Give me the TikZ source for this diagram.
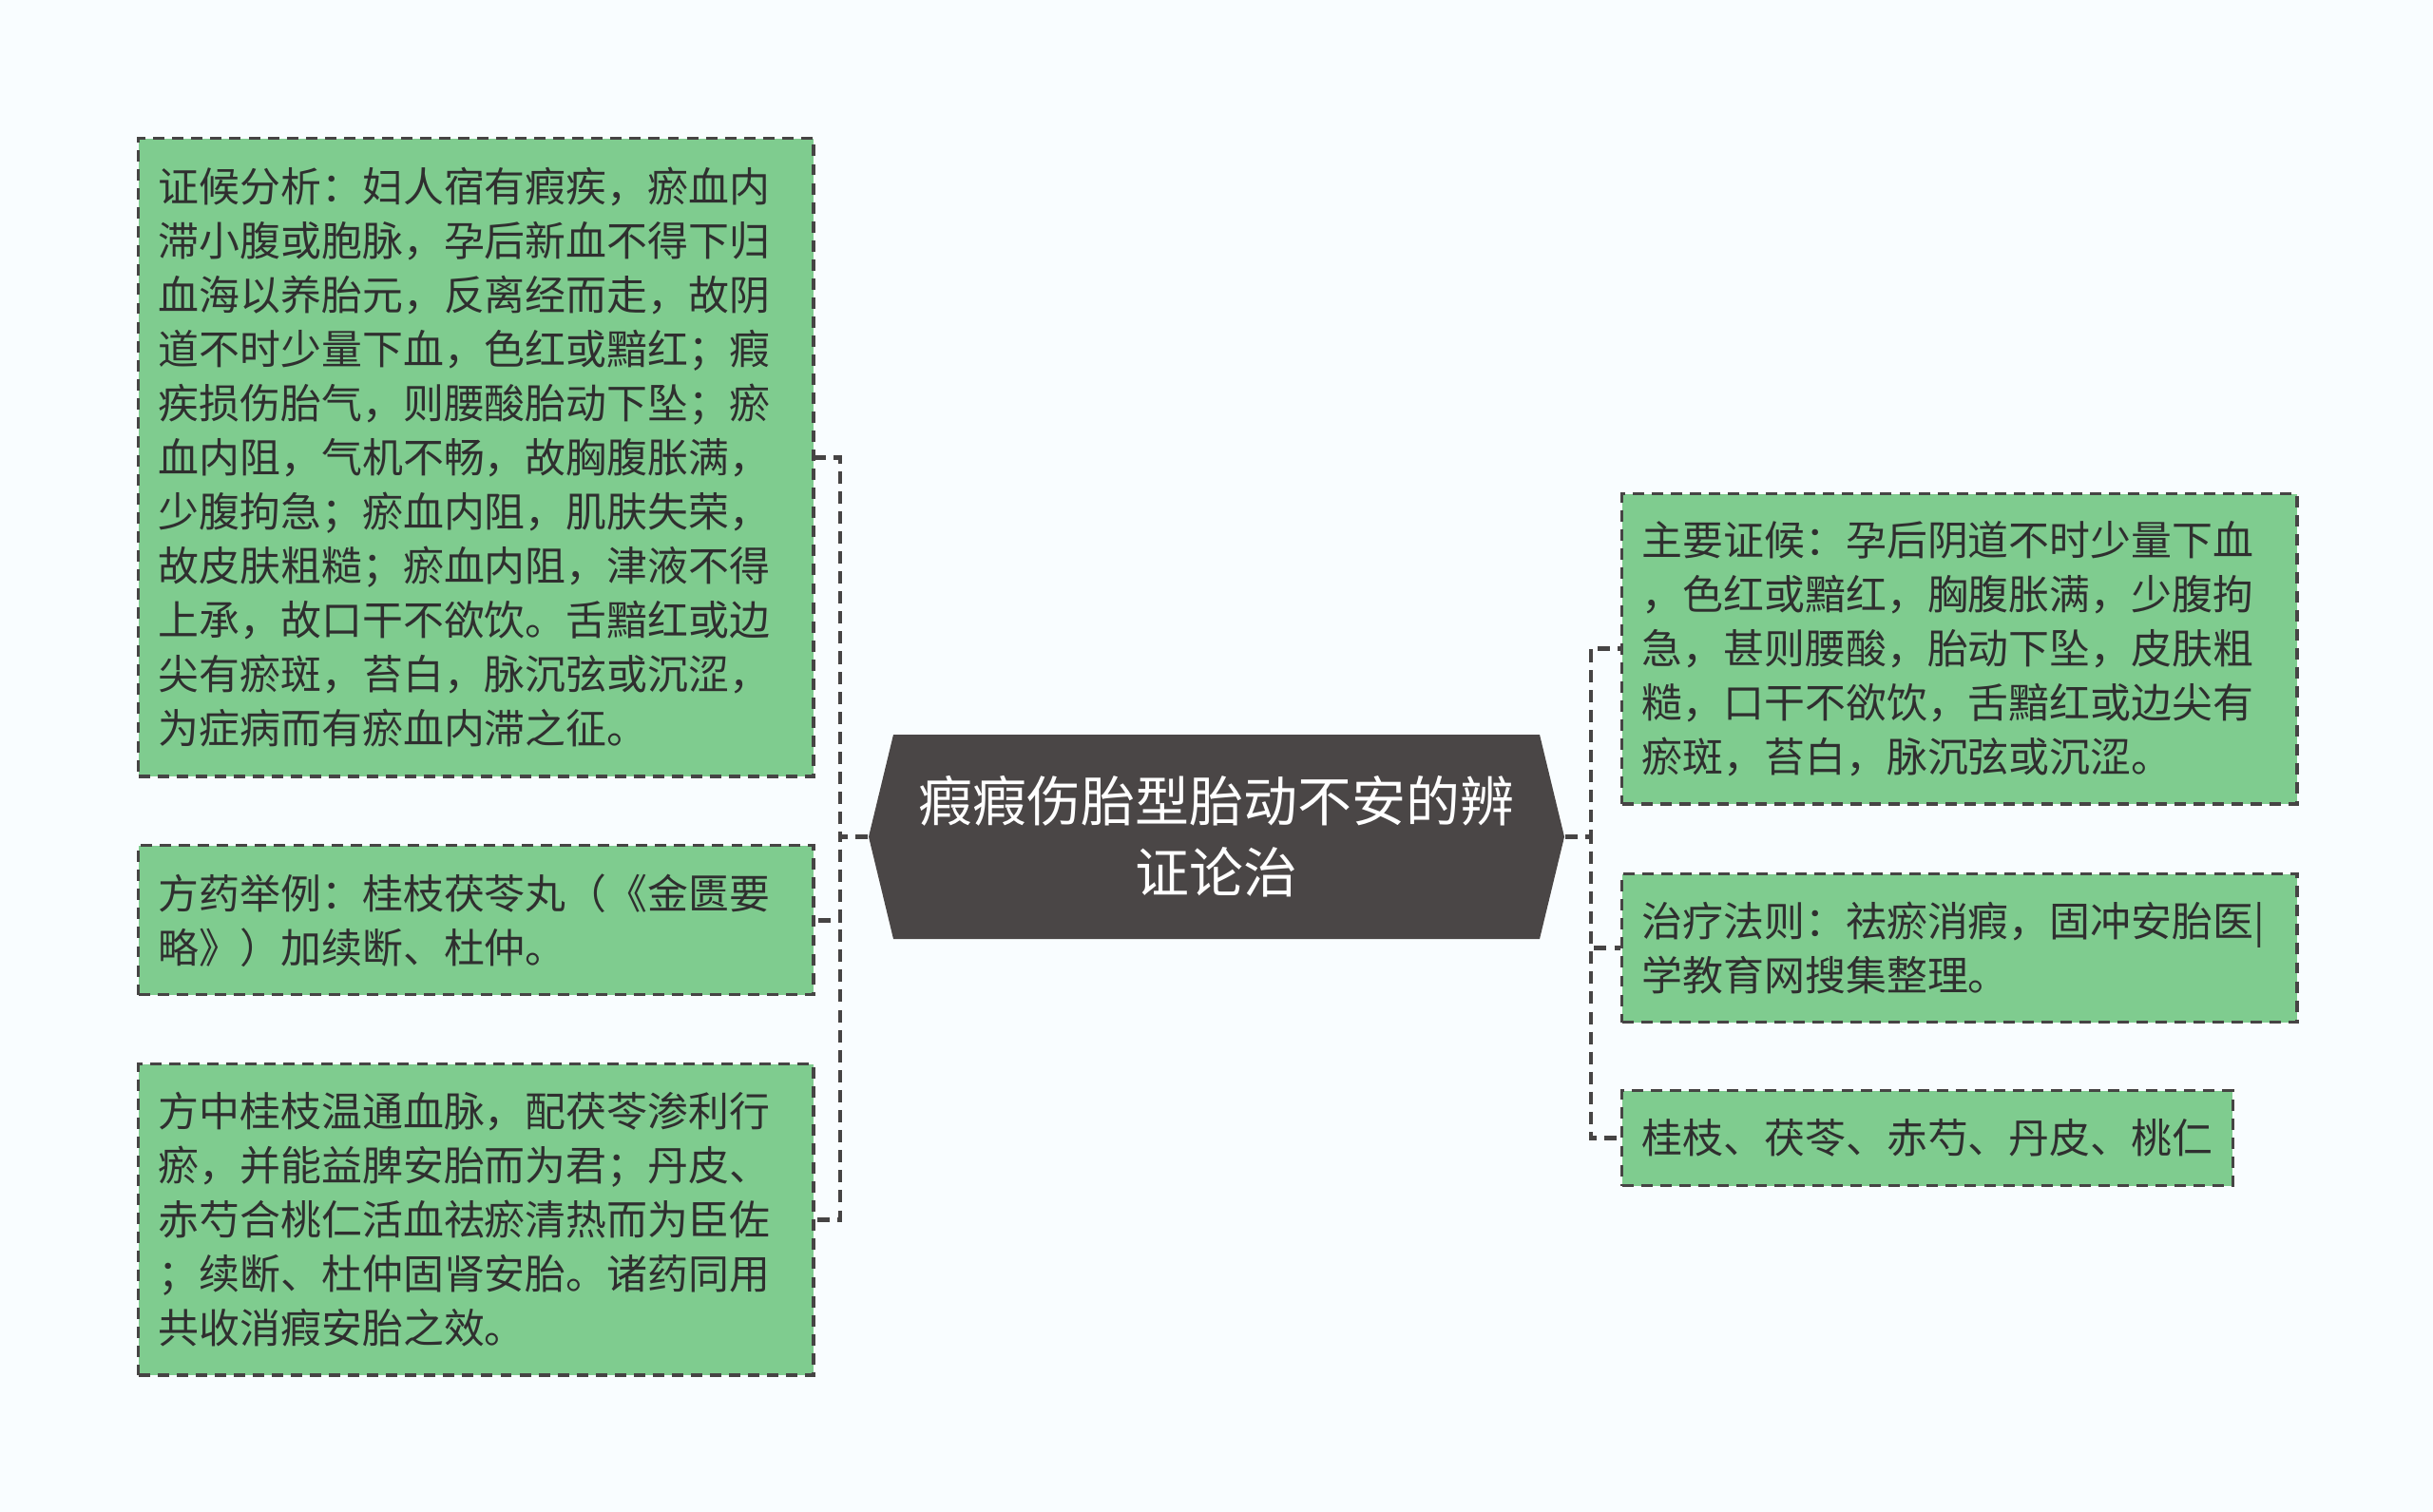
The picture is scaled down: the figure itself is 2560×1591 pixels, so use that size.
\documentclass[tikz,border=0pt]{standalone}
\usepackage{fontspec}
\setmainfont{Noto Sans CJK SC}
\usepackage{xcolor}
\usetikzlibrary{calc}
\definecolor{boxgreen}{RGB}{127,204,143}
\definecolor{linegray}{RGB}{70,68,68}
\definecolor{rootgray}{RGB}{74,70,70}
\definecolor{textgray}{RGB}{47,47,47}
\definecolor{bgwhite}{RGB}{249,253,255}

\begin{document}
\begin{tikzpicture}[x=0.01cm, y=-0.01cm,
  leaf/.style={draw=linegray, line width=0.95pt, dash pattern=on 3.4pt off 2.3pt,
    fill=boxgreen, text=textgray, inner sep=0.21cm, align=left, anchor=north west,
    font=\fontsize{12.2pt}{16.2pt}\selectfont},
  leafwide/.style={leaf, text width=6.68cm},
  link/.style={draw=linegray, line width=1.35pt, dash pattern=on 3.7pt off 2.3pt}]
  \def\hw{366}
  \def\hh{107.5}
  \def\cut{26}

  \useasboundingbox (0,0) rectangle (2560,1591);
  \fill[bgwhite] (0,0) rectangle (2560,1591);

  % centre topic
  \coordinate (c) at (1280,880.5);
  \fill[rootgray] ($(c)+(-\hw,0)$) -- ($(c)+(-\hw+\cut,-\hh)$) -- ($(c)+(\hw-\cut,-\hh)$)
    -- ($(c)+(\hw,0)$) -- ($(c)+(\hw-\cut,\hh)$) -- ($(c)+(-\hw+\cut,\hh)$) -- cycle;
  \node[minimum width=7.32cm, minimum height=2.15cm, inner sep=0pt, text=white, align=center,
    font=\fontsize{16.2pt}{21.3pt}\selectfont] (root) at (c) {瘕瘕伤胎型胎动不安的辨\\证论治};

  % left side
  \node[leafwide, minimum height=6.71cm] (analysis) at (144,144) {证候分析：妇人宿有瘕疾，瘀血内\\滞小腹或胞脉，孕后新血不得下归\\血海以养胎元，反离经而走，故阴\\道不时少量下血，色红或黯红；瘕\\疾损伤胎气，则腰酸胎动下坠；瘀\\血内阻，气机不畅，故胸腹胀满，\\少腹拘急；瘀血内阻，肌肤失荣，\\故皮肤粗糙；瘀血内阻，津液不得\\上承，故口干不欲饮。舌黯红或边\\尖有瘀斑，苔白，脉沉弦或沉涩，\\为症病而有瘀血内滞之征。};
  \node[leafwide, minimum height=1.57cm] (recipe) at (144,888) {方药举例：桂枝茯苓丸（《金匮要\\略》）加续断、杜仲。};
  \node[leafwide, minimum height=3.27cm] (meaning) at (144,1118) {方中桂枝温通血脉，配茯苓渗利行\\瘀，并能益脾安胎而为君；丹皮、\\赤芍合桃仁活血祛瘀清热而为臣佐\\；续断、杜仲固肾安胎。诸药同用\\共收消瘕安胎之效。};

  % right side
  \node[leafwide, minimum height=3.26cm] (symptoms) at (1705,518) {主要证候：孕后阴道不时少量下血\\，色红或黯红，胸腹胀满，少腹拘\\急，甚则腰酸，胎动下坠，皮肤粗\\糙，口干不欲饮，舌黯红或边尖有\\瘀斑，苔白，脉沉弦或沉涩。};
  \node[leafwide, minimum height=1.56cm] (rule) at (1705,918) {治疗法则：祛瘀消瘕，固冲安胎医|\\学教育网搜集整理。};
  \node[leaf, minimum height=1.00cm] (herbs) at (1705,1146) {桂枝、茯苓、赤芍、丹皮、桃仁};

  \foreach \n in {analysis, recipe, meaning}
    \draw[link] (root.west) -- ++(-29,0) |- (\n.east);
  \foreach \n in {symptoms, rule, herbs}
    \draw[link] (root.east) -- ++(27,0) |- (\n.west);
\end{tikzpicture}
\end{document}
